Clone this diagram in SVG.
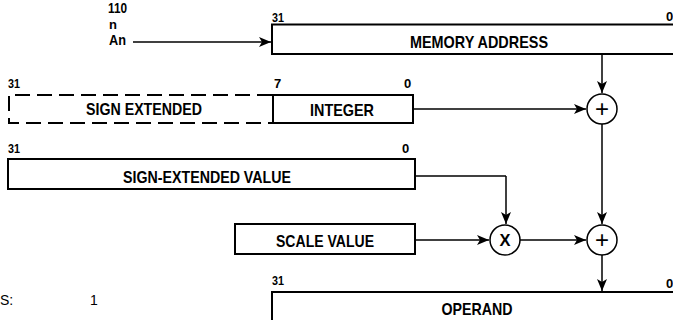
<svg xmlns="http://www.w3.org/2000/svg" width="673" height="320" viewBox="0 0 673 320">
<defs>
<marker id="ah" viewBox="0 0 12 10" refX="12" refY="5" markerWidth="12" markerHeight="10" markerUnits="userSpaceOnUse" orient="auto">
<path d="M0,0 L12,5 L0,10 L3,5 Z" fill="#000"/>
</marker>
</defs>
<style>
.box{fill:#fff;stroke:#000;stroke-width:2}
.dash{fill:none;stroke:#000;stroke-width:2;stroke-dasharray:15,7}
.ln{fill:none;stroke:#000;stroke-width:1.5}
.arr{fill:none;stroke:#000;stroke-width:1.5;marker-end:url(#ah)}
.t{font-family:"Liberation Sans",Arial,sans-serif;font-weight:bold;font-size:17px;fill:#000}
.s{font-family:"Liberation Sans",Arial,sans-serif;font-weight:bold;font-size:13px;fill:#000}
.p{font-family:"Liberation Sans",Arial,sans-serif;font-size:24px;fill:#000}
.n{font-family:"Liberation Sans",Arial,sans-serif;font-size:14px;fill:#000}
.c{fill:#fff;stroke:#000;stroke-width:1.5}
</style>
<rect width="673" height="320" fill="#fff"/>

<g id="connectors">
<path class="arr" d="M133,42 H271"/>
<path class="arr" d="M602,54 V93"/>
<path class="arr" d="M414,109 H586"/>
<path class="arr" d="M602,124 V224"/>
<path class="ln" d="M415,176 H506"/>
<path class="arr" d="M506,176 V224"/>
<path class="arr" d="M415,240 H489"/>
<path class="arr" d="M520,240 H586"/>
<path class="arr" d="M602,255 V291"/>
</g>

<g id="an-label">
<text class="s" x="108" y="13" style="font-size:14px" textLength="19" lengthAdjust="spacingAndGlyphs">110</text>
<text class="s" x="109" y="29" style="font-size:13px">n</text>
<text class="s" x="109" y="45" style="font-size:14px" textLength="17" lengthAdjust="spacingAndGlyphs">An</text>
</g>

<g id="memory-address">
<rect class="box" x="272" y="24.5" width="420" height="29.5"/>
<text class="s" x="272" y="22" textLength="12" lengthAdjust="spacingAndGlyphs">31</text>
<text class="s" x="666" y="21">0</text>
<text class="t" x="479" y="48" text-anchor="middle" textLength="138" lengthAdjust="spacingAndGlyphs">MEMORY ADDRESS</text>
</g>

<g id="sign-extended">
<path class="dash" d="M272,95 H9 V123 H272"/>
<text class="s" x="8" y="88" textLength="12" lengthAdjust="spacingAndGlyphs">31</text>
<text class="t" x="144" y="115" text-anchor="middle" textLength="116" lengthAdjust="spacingAndGlyphs">SIGN EXTENDED</text>
</g>

<g id="integer">
<rect class="box" x="273" y="95" width="140" height="28"/>
<text class="s" x="274" y="88">7</text>
<text class="s" x="404" y="88">0</text>
<text class="t" x="342" y="116" text-anchor="middle" textLength="64" lengthAdjust="spacingAndGlyphs">INTEGER</text>
</g>

<g id="sign-extended-value">
<rect class="box" x="8" y="159" width="407" height="30"/>
<text class="s" x="8" y="153" textLength="12" lengthAdjust="spacingAndGlyphs">31</text>
<text class="s" x="402" y="153">0</text>
<text class="t" x="207" y="183" text-anchor="middle" textLength="168" lengthAdjust="spacingAndGlyphs">SIGN-EXTENDED VALUE</text>
</g>

<g id="scale-value">
<rect class="box" x="235" y="224" width="180" height="30"/>
<text class="t" x="325" y="247" text-anchor="middle" textLength="98" lengthAdjust="spacingAndGlyphs">SCALE VALUE</text>
</g>

<g id="add1">
<circle class="c" cx="602" cy="109" r="15"/>
<text class="p" x="602" y="117" text-anchor="middle">+</text>
</g>

<g id="mult">
<circle class="c" cx="505" cy="240" r="15"/>
<text class="t" x="505" y="246" text-anchor="middle" textLength="11" lengthAdjust="spacingAndGlyphs">X</text>
</g>

<g id="add2">
<circle class="c" cx="602" cy="240" r="15"/>
<text class="p" x="602" y="248" text-anchor="middle">+</text>
</g>

<g id="operand">
<path class="box" d="M272,340 V292 H700"/>
<text class="s" x="272" y="285" textLength="12" lengthAdjust="spacingAndGlyphs">31</text>
<text class="s" x="666" y="288">0</text>
<text class="t" x="477" y="315" text-anchor="middle" textLength="71" lengthAdjust="spacingAndGlyphs">OPERAND</text>
</g>

<g id="scale-note">
<text class="n" x="0" y="305">S:</text>
<text class="n" x="90" y="305">1</text>
</g>
</svg>
